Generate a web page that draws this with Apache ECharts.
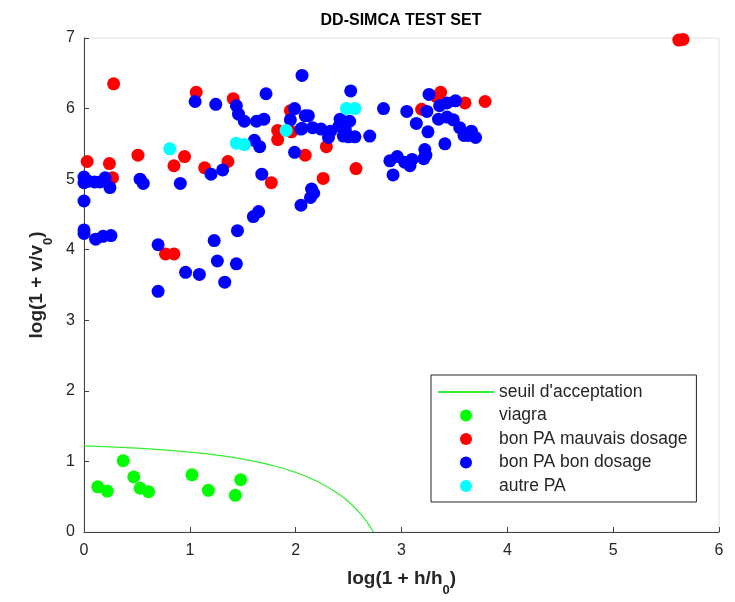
<!DOCTYPE html>
<html>
<head>
<meta charset="utf-8">
<title>DD-SIMCA TEST SET</title>
<script src="https://cdn.jsdelivr.net/npm/echarts@6/dist/echarts.min.js"></script>
<style>
  html, body { margin: 0; padding: 0; background: #ffffff; }
  #chart { width: 735px; height: 602px; }
</style>
</head>
<body>
<div id="chart"></div>
<script>
// Acceptance boundary, log(1 + h/h0) vs log(1 + v/v0)
var seuilX = [0, 0.25, 0.5, 0.75, 1.0, 1.25, 1.5, 1.75, 2.0, 2.2, 2.4, 2.5, 2.6, 2.65, 2.7, 2.735];
var seuilY = [1.22, 1.206, 1.188, 1.164, 1.132, 1.09, 1.033, 0.955, 0.845, 0.72, 0.546, 0.428, 0.279, 0.189, 0.084, 0];

// viagra samples
var viagra = [
  [0.13, 0.64], [0.22, 0.58], [0.37, 1.01], [0.47, 0.78], [0.53, 0.62],
  [0.61, 0.57], [1.02, 0.81], [1.175, 0.59], [1.43, 0.52], [1.48, 0.74]
];

// right active ingredient, wrong dose
var bonPaMauvaisDosage = [
  [0.28, 6.35], [1.06, 6.23], [1.41, 6.14], [1.95, 5.97], [1.83, 5.69],
  [1.83, 5.56], [1.96, 5.67], [0.03, 5.25], [0.24, 5.22], [0.51, 5.34],
  [0.95, 5.32], [0.85, 5.19], [1.14, 5.16], [1.36, 5.25], [0.27, 5.02],
  [1.77, 4.95], [2.09, 5.34], [3.37, 6.23], [3.33, 6.17], [3.60, 6.08],
  [3.79, 6.10], [3.19, 5.99], [2.29, 5.46], [2.57, 5.15], [2.26, 5.01],
  [0.77, 3.94], [0.85, 3.94], [5.62, 6.97], [5.66, 6.98]
];

// right active ingredient, right dose
var bonPaBonDosage = [
  [2.06, 6.47], [1.05, 6.10], [1.245, 6.06], [1.72, 6.21], [1.44, 6.04],
  [1.46, 5.92], [1.515, 5.82], [1.63, 5.82], [1.70, 5.85], [1.99, 6.00],
  [1.95, 5.84], [2.05, 5.71], [2.09, 5.90], [1.61, 5.55], [1.66, 5.46],
  [1.99, 5.38],
  [0.0, 5.03], [0.04, 4.97], [0.10, 4.96], [0.15, 4.96], [0.20, 5.02],
  [0.245, 4.88], [0.0, 4.95], [0.53, 5.00], [0.56, 4.94], [0.91, 4.94],
  [1.20, 5.07], [1.31, 5.13], [1.68, 5.07], [0.0, 4.69],
  [2.52, 6.25], [2.12, 5.90], [2.06, 5.72], [2.16, 5.73], [2.24, 5.71],
  [2.33, 5.68], [2.31, 5.59], [2.42, 5.85], [2.41, 5.75], [2.47, 5.70],
  [2.51, 5.82], [2.50, 5.60], [2.56, 5.60], [2.45, 5.61], [2.70, 5.61],
  [2.83, 6.00], [3.05, 5.96], [3.26, 6.20], [3.24, 5.96], [3.14, 5.79],
  [3.25, 5.67], [3.36, 6.04], [3.43, 6.08], [3.51, 6.11], [3.35, 5.85],
  [3.43, 5.88], [3.49, 5.84], [3.55, 5.73], [3.59, 5.62], [3.66, 5.68],
  [3.70, 5.59], [3.63, 5.62], [3.41, 5.50], [2.89, 5.26], [2.96, 5.32],
  [3.03, 5.24], [3.10, 5.28], [3.08, 5.19], [3.22, 5.42], [3.23, 5.34],
  [3.21, 5.29], [2.92, 5.06], [2.15, 4.86], [2.17, 4.80], [2.14, 4.74],
  [0.0, 4.28], [0.0, 4.23], [0.11, 4.15], [0.18, 4.19], [0.255, 4.20],
  [0.70, 4.07], [0.70, 3.41], [0.96, 3.68], [1.09, 3.65], [1.23, 4.13],
  [1.26, 3.84], [1.33, 3.54], [1.44, 3.80], [1.45, 4.27], [1.60, 4.47],
  [1.65, 4.54], [2.05, 4.63]
];

// other active ingredient
var autrePa = [
  [0.81, 5.43], [1.44, 5.51], [1.515, 5.49], [1.91, 5.69], [2.48, 6.00], [2.56, 6.00]
];

var xTicks = [0, 1, 2, 3, 4, 5, 6];
var yTicks = [0, 1, 2, 3, 4, 5, 6, 7];

var seuil = seuilX.map(function (x, i) { return [x, seuilY[i]]; });

var FONT = '"Liberation Sans", Arial, Helvetica, sans-serif';
var TXT = '#262626';

var chart = echarts.init(document.getElementById('chart'), null, { renderer: 'canvas' });

function scatter(name, data, color) {
  return {
    name: name,
    type: 'scatter',
    data: data,
    symbol: 'circle',
    symbolSize: 13,
    itemStyle: { color: color, opacity: 1 },
    emphasis: { disabled: true },
    z: 3
  };
}

var axisNameRich = {
  a: { fontFamily: FONT, fontSize: 19, fontWeight: 'bold', color: TXT },
  s: { fontFamily: FONT, fontSize: 13, fontWeight: 'bold', color: TXT, verticalAlign: 'bottom', padding: [0, 0, -9, 0] }
};

chart.setOption({
  animation: false,
  backgroundColor: '#ffffff',
  title: {
    text: 'DD-SIMCA TEST SET',
    left: 396,
    textAlign: 'center',
    top: 8,
    textStyle: { fontFamily: FONT, fontSize: 16, fontWeight: 'bold', color: '#000000' }
  },
  grid: {
    left: 84, right: 16, top: 38, bottom: 67,
    show: true, borderColor: '#e2e2e2', borderWidth: 1, backgroundColor: 'transparent'
  },
  legend: {
    orient: 'vertical',
    left: 431,
    top: 375,
    padding: [8, 9, 7, 6],
    itemWidth: 56,
    itemHeight: 12,
    itemGap: 5.5,
    backgroundColor: '#ffffff',
    borderColor: '#262626',
    borderWidth: 1,
    textStyle: { fontFamily: FONT, fontSize: 17.5, color: TXT },
    data: [
      { name: "seuil d'acceptation", itemStyle: { opacity: 0 } },
      { name: 'viagra', icon: 'circle' },
      { name: 'bon PA mauvais dosage', icon: 'circle' },
      { name: 'bon PA bon dosage', icon: 'circle' },
      { name: 'autre PA', icon: 'circle' }
    ]
  },
  xAxis: {
    type: 'value',
    min: xTicks[0],
    max: xTicks[xTicks.length - 1],
    interval: 1,
    name: '{a|log(1 + h/h}{s|0}{a|)}',
    nameLocation: 'middle',
    nameGap: 37,
    nameTextStyle: { rich: axisNameRich },
    axisLine: { show: true, onZero: false, lineStyle: { color: '#404040', width: 1 } },
    axisTick: { show: true, inside: true, length: 5, lineStyle: { color: '#404040' } },
    axisLabel: { fontFamily: FONT, fontSize: 16, color: TXT, margin: 11 },
    splitLine: { show: false }
  },
  yAxis: {
    type: 'value',
    min: yTicks[0],
    max: yTicks[yTicks.length - 1],
    interval: 1,
    name: '{a|log(1 + v/v}{s|0}{a|)}',
    nameLocation: 'middle',
    nameRotate: 90,
    nameGap: 36,
    nameTextStyle: { rich: axisNameRich },
    axisLine: { show: true, onZero: false, lineStyle: { color: '#404040', width: 1 } },
    axisTick: { show: true, inside: true, length: 5, lineStyle: { color: '#404040' } },
    axisLabel: { fontFamily: FONT, fontSize: 16, color: TXT, margin: 9 },
    splitLine: { show: false }
  },
  series: [
    {
      name: "seuil d'acceptation",
      type: 'line',
      data: seuil,
      smooth: true,
      showSymbol: false,
      symbol: 'none',
      lineStyle: { color: '#33ee33', width: 1.2 },
      itemStyle: { color: '#33ee33' },
      emphasis: { disabled: true },
      z: 2
    },
    scatter('viagra', viagra, '#00ff00'),
    scatter('bon PA mauvais dosage', bonPaMauvaisDosage, '#ff0000'),
    scatter('bon PA bon dosage', bonPaBonDosage, '#0000ff'),
    scatter('autre PA', autrePa, '#00ffff')
  ]
});
</script>
</body>
</html>
